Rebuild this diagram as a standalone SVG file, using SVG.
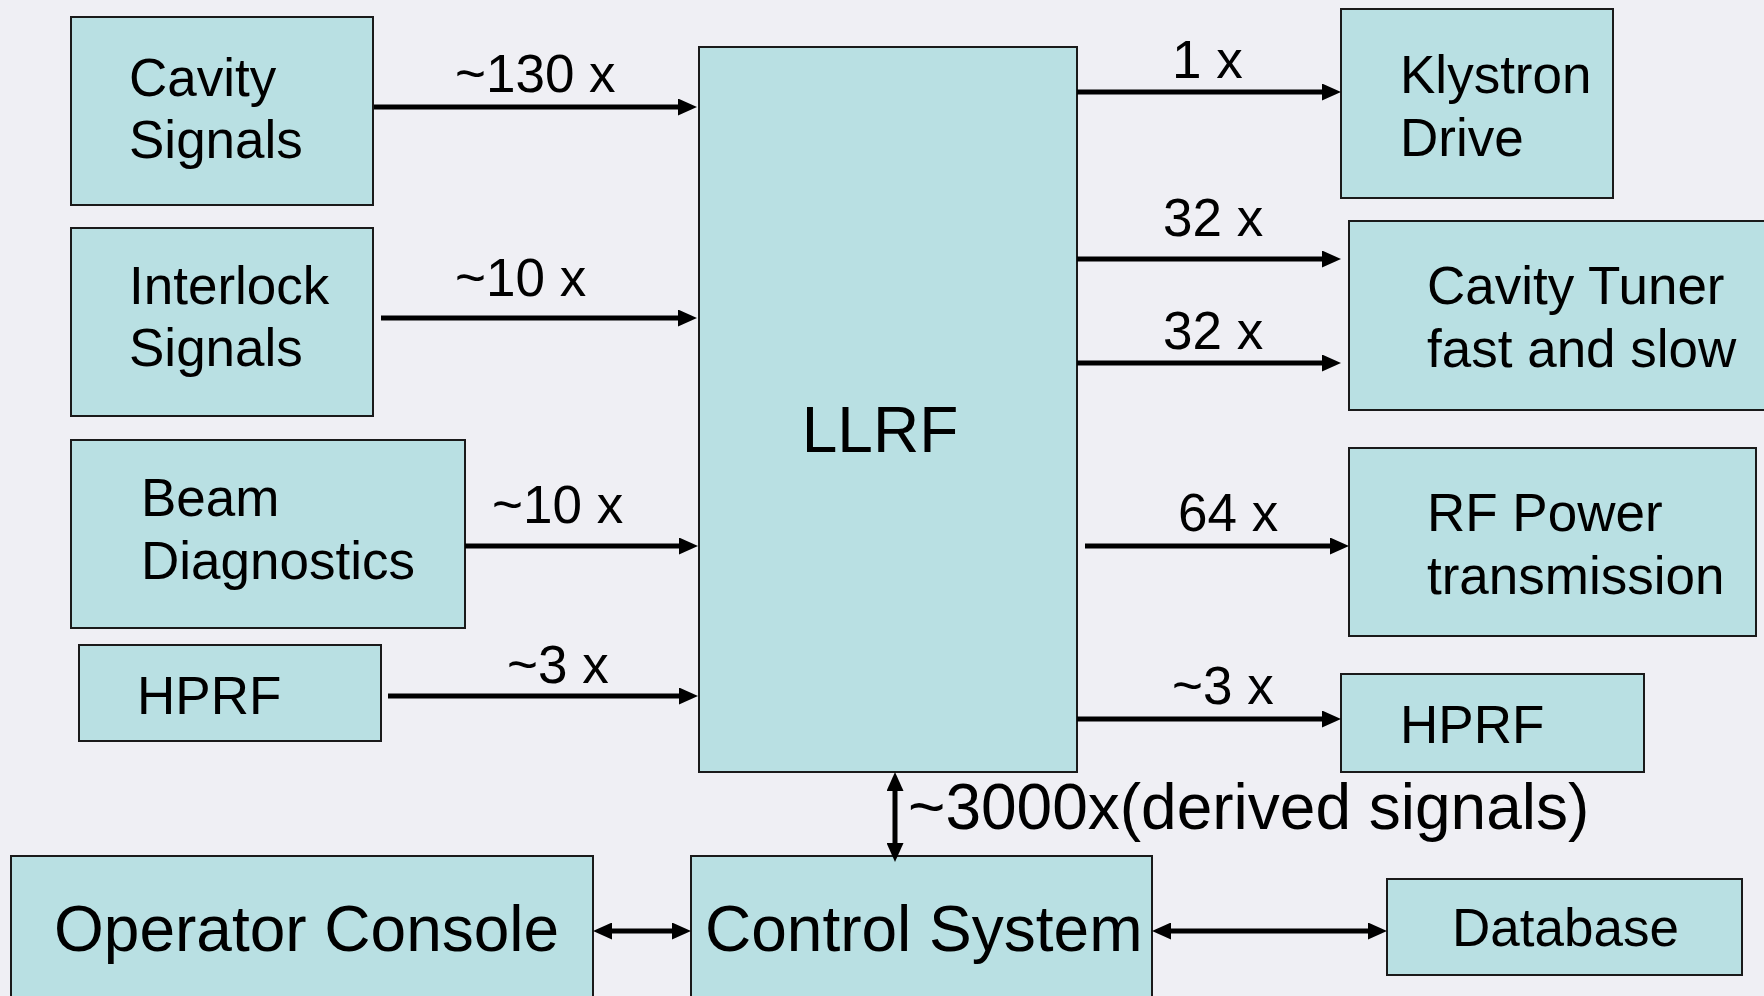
<svg xmlns="http://www.w3.org/2000/svg" width="1764" height="996" viewBox="0 0 1764 996">
  <style>
    .box { fill: #B9E0E3; stroke: #1a1a1a; stroke-width: 2; }
    .t { font-family: "Liberation Sans", Arial, sans-serif; fill: #000; }
    .lbl { font-size: 53px; }
    .big { font-size: 64px; }
    .wire { fill: none; stroke: #000; stroke-width: 5; marker-end: url(#head); }
    .both { marker-start: url(#head); }
  </style>
  <defs>
    <marker id="head" markerUnits="userSpaceOnUse" markerWidth="19" markerHeight="17" refX="4" refY="8.5" orient="auto-start-reverse">
      <path d="M0,0 L19,8.5 L0,17 z" fill="#000"/>
    </marker>
  </defs>

  <rect width="1764" height="996" fill="#EFEFF4"/>

  <g id="cavity-signals">
    <rect class="box" x="71" y="17" width="302" height="188"/>
    <text class="t lbl" x="129" y="96">Cavity</text>
    <text class="t lbl" x="129" y="158">Signals</text>
  </g>
  <g id="interlock-signals">
    <rect class="box" x="71" y="228" width="302" height="188"/>
    <text class="t lbl" x="129" y="304">Interlock</text>
    <text class="t lbl" x="129" y="366">Signals</text>
  </g>
  <g id="beam-diagnostics">
    <rect class="box" x="71" y="440" width="394" height="188"/>
    <text class="t lbl" x="141" y="516">Beam</text>
    <text class="t lbl" x="141" y="579">Diagnostics</text>
  </g>
  <g id="hprf-in">
    <rect class="box" x="79" y="645" width="302" height="96"/>
    <text class="t lbl" x="137" y="714">HPRF</text>
  </g>
  <g id="llrf">
    <rect class="box" x="699" y="47" width="378" height="725"/>
    <text class="t big" x="880" y="452" text-anchor="middle">LLRF</text>
  </g>
  <g id="klystron-drive">
    <rect class="box" x="1341" y="9" width="272" height="189"/>
    <text class="t lbl" x="1400" y="93">Klystron</text>
    <text class="t lbl" x="1400" y="156">Drive</text>
  </g>
  <g id="cavity-tuner">
    <rect class="box" x="1349" y="221" width="420" height="189"/>
    <text class="t lbl" x="1427" y="304">Cavity Tuner</text>
    <text class="t lbl" x="1427" y="367">fast and slow</text>
  </g>
  <g id="rf-power">
    <rect class="box" x="1349" y="448" width="407" height="188"/>
    <text class="t lbl" x="1427" y="531">RF Power</text>
    <text class="t lbl" x="1427" y="594">transmission</text>
  </g>
  <g id="hprf-out">
    <rect class="box" x="1341" y="674" width="303" height="98"/>
    <text class="t lbl" x="1400" y="743">HPRF</text>
  </g>
  <g id="operator-console">
    <rect class="box" x="11" y="856" width="582" height="150"/>
    <text class="t big" x="54" y="951">Operator Console</text>
  </g>
  <g id="control-system">
    <rect class="box" x="691" y="856" width="461" height="150"/>
    <text class="t big" x="705" y="951">Control System</text>
  </g>
  <g id="database">
    <rect class="box" x="1387" y="879" width="355" height="96"/>
    <text class="t lbl" x="1452" y="946">Database</text>
  </g>

  <g id="connectors">
    <path class="wire" d="M374,107 H682"/>
    <path class="wire" d="M381,318 H682"/>
    <path class="wire" d="M465,546 H683"/>
    <path class="wire" d="M388,696 H683"/>
    <path class="wire" d="M1077,92 H1326"/>
    <path class="wire" d="M1077,259 H1326"/>
    <path class="wire" d="M1077,363 H1326"/>
    <path class="wire" d="M1085,546 H1334"/>
    <path class="wire" d="M1077,719 H1326"/>
    <path class="wire both" d="M895,787 V847"/>
    <path class="wire both" d="M608,931 H676"/>
    <path class="wire both" d="M1167,931 H1372"/>
  </g>

  <g id="connector-labels">
    <text class="t lbl" x="455" y="92">~130 x</text>
    <text class="t lbl" x="455" y="296">~10 x</text>
    <text class="t lbl" x="492" y="523">~10 x</text>
    <text class="t lbl" x="507" y="683">~3 x</text>
    <text class="t lbl" x="1172" y="78">1 x</text>
    <text class="t lbl" x="1163" y="236">32 x</text>
    <text class="t lbl" x="1163" y="349">32 x</text>
    <text class="t lbl" x="1178" y="531">64 x</text>
    <text class="t lbl" x="1172" y="704">~3 x</text>
    <text class="t big" x="908" y="829">~3000x(derived signals)</text>
  </g>
</svg>
